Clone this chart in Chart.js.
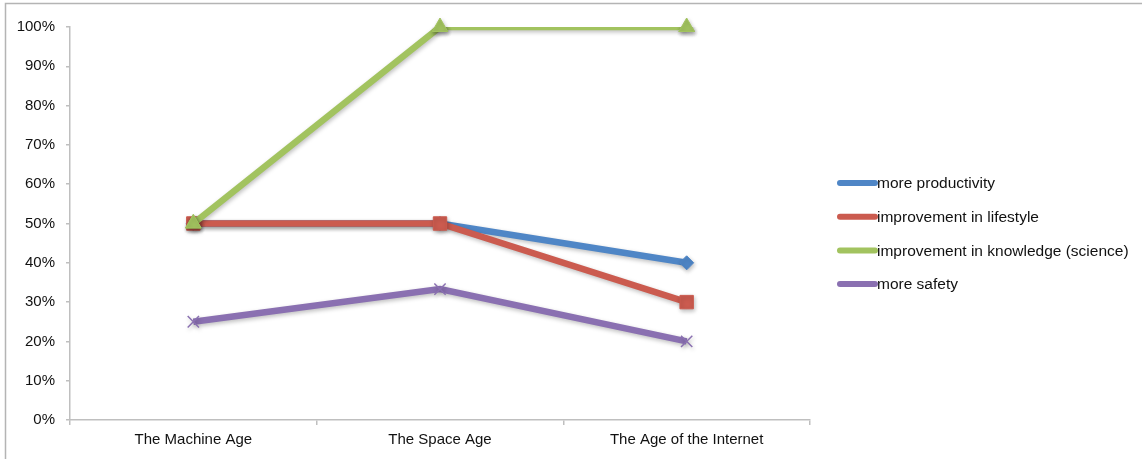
<!DOCTYPE html>
<html>
<head>
<meta charset="utf-8">
<script src="https://cdn.jsdelivr.net/npm/chart.js@4/dist/chart.umd.min.js"></script>
<style>
  html, body { margin: 0; padding: 0; background: #fff; }
  #wrap { position: relative; width: 1142px; height: 459px; }
</style>
</head>
<body>
<div id="wrap"><canvas id="c" width="1142" height="459"></canvas></div>
<script>
// Survey answers per era, in percent
const eras = ['The Machine Age', 'The Space Age', 'The Age of the Internet'];
const seriesNames = [
  'more productivity',
  'improvement in lifestyle',
  'improvement in knowledge (science)',
  'more safety'
];
const productivity = [50, 50, 40];
const lifestyle = [50, 50, 30];
const knowledge = [50, 100, 100];
const safety = [25, 33.3, 20];

const FONT = 'Liberation Sans';
const AXIS_GREY = '#bfbfbf';

function series(i, values, color, style, radius, order) {
  return {
    label: seriesNames[i],
    data: values,
    borderColor: color,
    backgroundColor: color,
    borderWidth: 6.5,
    pointStyle: style,
    pointRadius: radius,
    pointHoverRadius: radius,
    pointBorderColor: color,
    pointBackgroundColor: style === 'crossRot' ? 'transparent' : color,
    pointBorderWidth: style === 'crossRot' ? 1.5 : 1,
    tension: 0,
    order: order
  };
}

// soft drop shadow under each series, Office style
const shadowPlugin = {
  id: 'seriesShadow',
  beforeDatasetDraw(chart) {
    const ctx = chart.ctx;
    ctx.save();
    ctx.shadowColor = 'rgba(0,0,0,0.25)';
    ctx.shadowBlur = 4;
    ctx.shadowOffsetX = 1;
    ctx.shadowOffsetY = 2;
  },
  afterDatasetDraw(chart) {
    chart.ctx.restore();
  }
};

// markers sitting on the top edge stay whole while the line is clipped
const topMarkers = {
  id: 'topMarkers',
  afterDatasetsDraw(chart) {
    const ctx = chart.ctx;
    const meta = chart.getDatasetMeta(2);
    ctx.save();
    ctx.shadowColor = 'rgba(0,0,0,0.25)';
    ctx.shadowBlur = 4;
    ctx.shadowOffsetX = 1;
    ctx.shadowOffsetY = 2;
    meta.data.forEach(p => p.draw(ctx));
    ctx.restore();
  }
};

// outer frame plus a legend on the right built from the datasets
const frameAndLegend = {
  id: 'frameAndLegend',
  beforeDraw(chart) {
    const ctx = chart.ctx;
    ctx.save();
    ctx.strokeStyle = '#b4b4b4';
    ctx.lineWidth = 1.5;
    ctx.beginPath();
    ctx.moveTo(5.5, chart.height);
    ctx.lineTo(5.5, 3.5);
    ctx.lineTo(chart.width, 3.5);
    ctx.stroke();
    ctx.restore();
  },
  afterDraw(chart) {
    const ctx = chart.ctx;
    const x0 = 840, x1 = 875, top = 183, step = 33.7;
    ctx.save();
    chart.data.datasets.forEach((ds, i) => {
      const y = top + i * step;
      ctx.strokeStyle = ds.borderColor;
      ctx.lineWidth = 6;
      ctx.lineCap = 'round';
      ctx.beginPath();
      ctx.moveTo(x0, y);
      ctx.lineTo(x1, y);
      ctx.stroke();
      ctx.lineCap = 'butt';
      ctx.fillStyle = ds.pointBackgroundColor;
      ctx.strokeStyle = ds.pointBorderColor;
      ctx.lineWidth = ds.pointBorderWidth;
      Chart.helpers.drawPoint(ctx, {pointStyle: ds.pointStyle, rotation: 0, borderWidth: ds.pointBorderWidth}, (x0 + x1) / 2, y);
      ctx.fillStyle = '#111';
      ctx.font = '15.5px "' + FONT + '"';
      ctx.textBaseline = 'middle';
      ctx.textAlign = 'left';
      ctx.fillText(ds.label, 877, y + 1);
    });
    ctx.restore();
  }
};

new Chart(document.getElementById('c'), {
  type: 'line',
  data: {
    labels: eras,
    datasets: [
      series(0, productivity, '#4f86c6', 'rectRot', 7, 4),
      series(1, lifestyle, '#cb5b4f', 'rect', 9.5, 3),
      series(2, knowledge, '#a2c35f', 'triangle', 9, 2),
      series(3, safety, '#8a70b1', 'crossRot', 8, 1)
    ]
  },
  options: {
    responsive: false,
    animation: false,
    devicePixelRatio: 1,
    layout: { padding: { left: 0, right: 332, top: 27, bottom: 0 } },
    plugins: { legend: { display: false }, tooltip: { enabled: false } },
    scales: {
      x: {
        offset: true,
        grid: {
          offset: true,
          drawOnChartArea: false,
          drawTicks: true,
          tickLength: 5,
          color: AXIS_GREY,
          lineWidth: 1.5
        },
        border: { color: AXIS_GREY, width: 1.5 },
        ticks: {
          color: '#111',
          padding: 6,
          font: { family: FONT, size: 15 },
          maxRotation: 0
        },
        afterFit(scale) { scale.height = 39; }
      },
      y: {
        min: 0,
        max: 100,
        ticks: {
          stepSize: 10,
          color: '#111',
          padding: 11,
          font: { family: FONT, size: 15 },
          callback: v => v + '%'
        },
        grid: {
          drawOnChartArea: false,
          drawTicks: true,
          tickLength: 4,
          color: AXIS_GREY,
          lineWidth: 1.5
        },
        border: { color: AXIS_GREY, width: 1.5 },
        afterFit(scale) { scale.width = 70; }
      }
    }
  },
  plugins: [shadowPlugin, topMarkers, frameAndLegend]
});
</script>
</body>
</html>
